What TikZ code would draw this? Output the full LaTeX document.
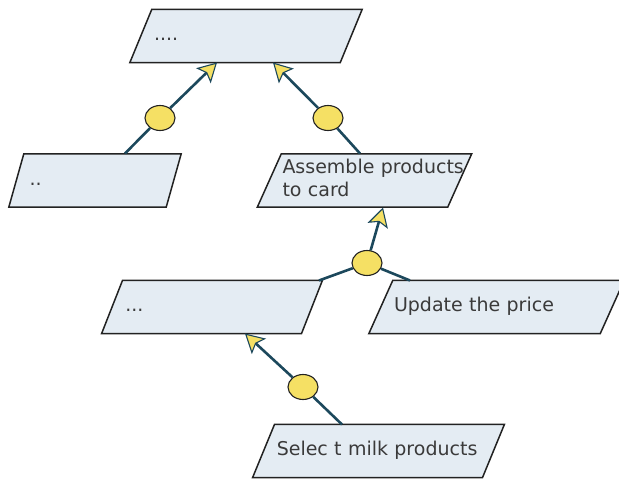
\documentclass[tikz,border=0pt]{standalone}
\usepackage{fontspec}
\setmainfont{DejaVu Sans}
\usetikzlibrary{arrows.meta,shapes.geometric,backgrounds,calc}

\definecolor{taskfill}{RGB}{228,236,243}
\definecolor{taskline}{RGB}{34,34,34}
\definecolor{tasktext}{RGB}{58,58,58}
\definecolor{linkcol}{RGB}{28,72,92}
\definecolor{junctionfill}{RGB}{245,224,100}

\begin{document}
\begin{tikzpicture}[x=1pt,y=-1pt,
  task/.style={rectangle, minimum width=#1, minimum height=53, inner xsep=13pt, inner ysep=0pt,
    text width=#1-26pt, align=left, text=tasktext, text height=13.9pt, text depth=4.8pt,
    font=\fontsize{19}{23.5}\selectfont},
  taskshape/.style={draw=taskline, line width=1.5pt, fill=taskfill},
  junction/.style={ellipse, draw=taskline, line width=1.1pt, fill=junctionfill,
    minimum width=30pt, minimum height=25pt, inner sep=0pt},
  link/.style={draw=linkcol, line width=2.6pt},
  goal/.style={link, -{Stealth[length=19pt, width=21pt, inset=4pt, fill=junctionfill, line width=1.1pt]}}]
\useasboundingbox (0,0) rectangle (619,479);

\node[task=210]   (root)      at (246,36)    {....};
\node[task=157]   (twodots)   at (95,180.5)  {..};
\node[task=190, text depth=28.3pt] (assemble) at (364.5,180.5) {\mbox{Assemble products}\\to card};
\node[task=199.5] (threedots) at (212,307)   {...};
\node[task=231]   (update)    at (496.5,307) {Update the price};
\node[task=229.5] (select)    at (378.5,451) {Selec t milk products};

% slanted boxes behind the labels
\begin{scope}[on background layer]
\foreach \n/\s in {root/22, twodots/15, assemble/24, threedots/21, update/24, select/22}
  \draw[taskshape] ($(\n.south west)+(-\s/2,0)$) -- ($(\n.north west)+(\s/2,0)$)
    -- ($(\n.north east)+(\s/2,0)$) -- ($(\n.south east)+(-\s/2,0)$) -- cycle;
\end{scope}

\coordinate (f1) at (125,153.5);
\coordinate (t1) at (217,62.5);
\coordinate (f2) at (360,153.5);
\coordinate (t2) at (273,62.5);
\coordinate (f3a) at (319,280.5);
\coordinate (f3b) at (410,280.5);
\coordinate (t3) at (383,207.5);
\coordinate (f4) at (342,424.5);
\coordinate (t4) at (245,333.5);

\node[junction] (j1) at (160,118) {};
\node[junction] (j2) at (328,118) {};
\node[junction] (j3) at (367,263) {};
\node[junction] (j4) at (303,387) {};

\draw[link] (f1) -- (j1);
\draw[goal] (j1) -- (t1);
\draw[link] (f2) -- (j2);
\draw[goal] (j2) -- (t2);
\draw[link] (f3a) -- (j3);
\draw[link] (f3b) -- (j3);
\draw[goal] (j3) -- (t3);
\draw[link] (f4) -- (j4);
\draw[goal] (j4) -- (t4);
\end{tikzpicture}
\end{document}
